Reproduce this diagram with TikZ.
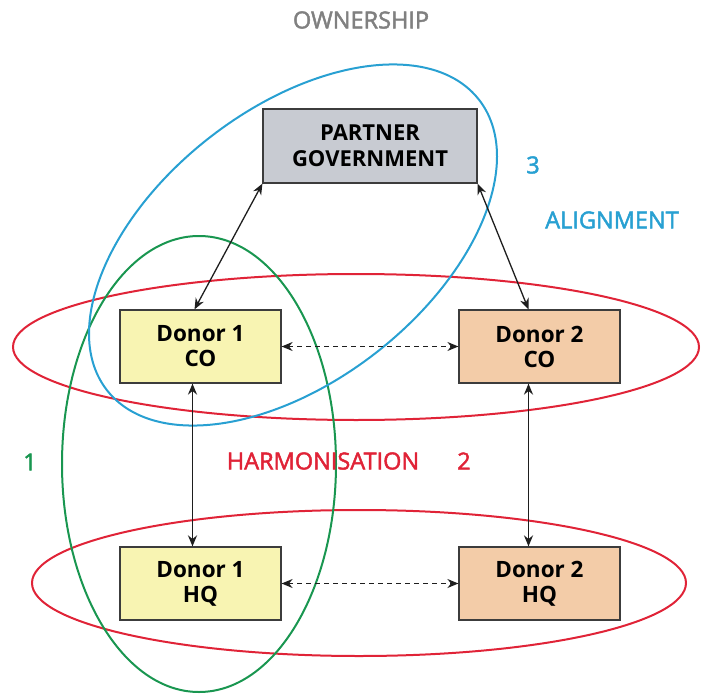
\documentclass[tikz,border=0pt]{standalone}
\usepackage{fontspec}
\setmainfont{Open Sans}
\newfontfamily\tagfont[FakeBold=2]{Open Sans}
\usetikzlibrary{arrows.meta}

\begin{document}
\begin{tikzpicture}[x=1pt,y=-1pt,
  box/.style={draw=custcol_3c_3c_3c, line width=1.2pt, minimum width=161pt, minimum height=73pt,
    inner sep=0, align=center, font=\fontsize{22.5pt}{25pt}\selectfont\bfseries},
  ring/.style={line width=2pt},
  link/.style={line width=1.3pt, custcol_1e_1e_1e, {Stealth[length=11pt,width=9pt]}-{Stealth[length=11pt,width=9pt]}},
  txt/.style={inner sep=0, font=\tagfont\fontsize{23.5pt}{23.5pt}\selectfont}]
\definecolor{custcol_3c_3c_3c}{RGB}{60, 60, 60}
\definecolor{custcol_1e_1e_1e}{RGB}{30, 30, 30}
\definecolor{custcol_80_80_80}{RGB}{128, 128, 128}
\definecolor{custcol_28_a0_d2}{RGB}{40, 160, 210}
\definecolor{custcol_19_96_50}{RGB}{25, 150, 80}
\definecolor{custcol_e0_23_37}{RGB}{224, 35, 55}
\definecolor{custcol_c8_cb_d2}{RGB}{200, 203, 210}
\definecolor{custcol_f8_f4_b2}{RGB}{248, 244, 178}
\definecolor{custcol_f3_cc_a8}{RGB}{243, 204, 168}
\useasboundingbox (0,0) rectangle (701,695);
\draw [ring, custcol_e0_23_37]  (356,347) ellipse (343 and 73);
\draw [ring, custcol_e0_23_37]  (359,583) ellipse (327 and 73);
\draw [ring, custcol_19_96_50]  (199,464) ellipse (137 and 228);
\draw [ring, custcol_28_a0_d2, rotate around={38:(293,245)}]  (293,245) ellipse (236 and 136);
\node [box, fill=custcol_c8_cb_d2, minimum width=214pt, minimum height=74pt, font=\fontsize{22pt}{26pt}\selectfont\bfseries] (govt) at (370,146) {PARTNER\\GOVERNMENT};
\node [box, fill=custcol_f8_f4_b2] (d1co) at (200.5,346.5) {Donor 1\\CO};
\node [box, fill=custcol_f3_cc_a8] (d2co) at (539.5,346.5) {Donor 2\\CO};
\node [box, fill=custcol_f8_f4_b2] (d1hq) at (200.5,583.5) {Donor 1\\HQ};
\node [box, fill=custcol_f3_cc_a8] (d2hq) at (539.5,583.5) {Donor 2\\HQ};
\draw [link]  (govt.south west) -- ([xshift=-6pt]d1co.north);
\draw [link]  (govt.south east) -- ([xshift=-11pt]d2co.north);
\draw [link, line width=1.7pt]  ([xshift=-8pt]d1co.south) -- ([xshift=-8pt]d1hq.north);
\draw [link, line width=1.7pt]  ([xshift=-11pt]d2co.south) -- ([xshift=-11pt]d2hq.north);
\draw [link, line width=1.5pt, dash pattern=on 5pt off 4pt]  (d1co.east) -- (d2co.west);
\draw [link, line width=1.5pt, dash pattern=on 5pt off 4pt]  (d1hq.east) -- (d2hq.west);
\node [txt, custcol_80_80_80] (owner) at (361,20) {OWNERSHIP};
\node [txt, custcol_28_a0_d2] (three) at (533,165) {3};
\node [txt, custcol_28_a0_d2] (align) at (612,220) {ALIGNMENT};
\node [txt, custcol_19_96_50] (one) at (30,462) {1};
\node [txt, custcol_e0_23_37] (harmon) at (323,461) {HARMONISATION};
\node [txt, custcol_e0_23_37] (two) at (464,461) {2};
\end{tikzpicture}
\end{document}
